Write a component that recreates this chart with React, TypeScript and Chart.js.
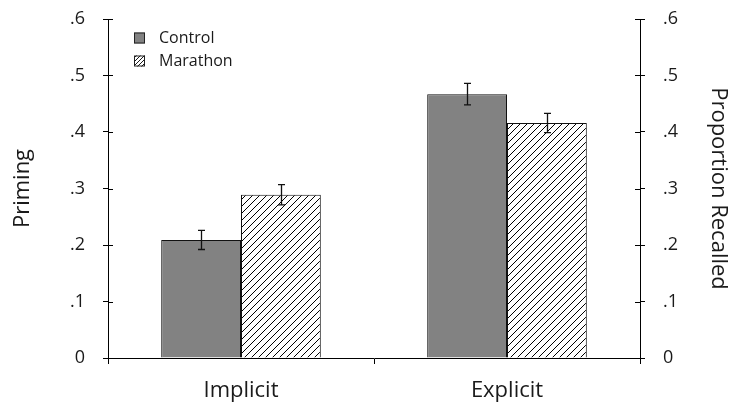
import React, { useEffect, useRef } from 'react';
import { Chart, registerables } from 'chart.js';

Chart.register(...registerables);

const categories = ['Implicit', 'Explicit'];
const seriesNames = ['Control', 'Marathon'];
const controlValues = [0.209, 0.467];
const marathonValues = [0.289, 0.416];
const controlErrors = [0.017, 0.019];
const marathonErrors = [0.018, 0.017];
const tickValues = [0, 0.1, 0.2, 0.3, 0.4, 0.5, 0.6];
const tickLabels = ['0', '.1', '.2', '.3', '.4', '.5', '.6'];
const leftTitle = 'Priming';
const rightTitle = 'Proportion Recalled';

const FONT = "'Open Sans', 'DejaVu Sans', sans-serif";
const TEXT = '#1a1a1a';
const CONTROL_FILL = '#828282';

function makeHatch(size: number, lw: number) {
  const c = document.createElement('canvas');
  c.width = size;
  c.height = size;
  const ctx = c.getContext('2d')!;
  ctx.fillStyle = '#fff';
  ctx.fillRect(0, 0, size, size);
  ctx.strokeStyle = '#000';
  ctx.lineWidth = lw;
  ctx.beginPath();
  ctx.moveTo(-1, size + 1);
  ctx.lineTo(size + 1, -1);
  ctx.moveTo(-1, 1);
  ctx.lineTo(1, -1);
  ctx.moveTo(size - 1, size + 1);
  ctx.lineTo(size + 1, size - 1);
  ctx.stroke();
  return ctx.createPattern(c, 'repeat')!;
}

const errorBarPlugin = {
  id: 'errorBars',
  afterDatasetsDraw(chart: any) {
    const ctx = chart.ctx;
    const yScale = chart.scales.y;
    const errs = [controlErrors, marathonErrors];
    chart.data.datasets.forEach((ds: any, di: number) => {
      const meta = chart.getDatasetMeta(di);
      meta.data.forEach((el: any, i: number) => {
        const v = ds.data[i];
        const e = errs[di][i];
        const x = Math.round(el.x) + 0.5;
        const yTop = yScale.getPixelForValue(v + e);
        const yBot = yScale.getPixelForValue(v - e);
        ctx.save();
        ctx.strokeStyle = '#111';
        ctx.lineWidth = 1.3;
        ctx.beginPath();
        ctx.moveTo(x, yTop);
        ctx.lineTo(x, yBot);
        ctx.moveTo(x - 3.5, yTop);
        ctx.lineTo(x + 3.5, yTop);
        ctx.moveTo(x - 3.5, yBot);
        ctx.lineTo(x + 3.5, yBot);
        ctx.stroke();
        ctx.restore();
      });
    });
  },
};

const innerTicksPlugin = {
  id: 'innerTicks',
  afterDraw(chart: any) {
    const ctx = chart.ctx;
    const ca = chart.chartArea;
    const yScale = chart.scales.y;
    ctx.save();
    ctx.strokeStyle = '#000';
    ctx.lineWidth = 1;
    ctx.beginPath();
    tickValues.forEach((v) => {
      if (v === 0) return;
      const y = Math.round(yScale.getPixelForValue(v)) + 0.5;
      ctx.moveTo(ca.left, y);
      ctx.lineTo(ca.left + 5, y);
      ctx.moveTo(ca.right - 5, y);
      ctx.lineTo(ca.right, y);
    });
    ctx.stroke();
    ctx.restore();
  },
};

const legendPlugin = {
  id: 'insideLegend',
  afterDraw(chart: any) {
    const ctx = chart.ctx;
    const ca = chart.chartArea;
    const fills = [CONTROL_FILL, makeHatch(4, 0.9)];
    const x0 = ca.left + 26;
    const rows = [ca.top + 19, ca.top + 42];
    ctx.save();
    seriesNames.forEach((name, i) => {
      const cy = rows[i];
      ctx.fillStyle = fills[i];
      ctx.fillRect(x0, cy - 5.5, 11, 11);
      ctx.strokeStyle = '#222';
      ctx.lineWidth = 1;
      ctx.strokeRect(x0 + 0.5, cy - 5, 10, 10);
      ctx.fillStyle = TEXT;
      ctx.font = `16px ${FONT}`;
      ctx.textBaseline = 'middle';
      ctx.textAlign = 'left';
      ctx.fillText(name, x0 + 25, cy);
    });
    ctx.restore();
  },
};

function yAxis(position: 'left' | 'right', title: string, width: number, titlePad: number) {
  return {
    type: 'linear',
    position,
    min: 0,
    max: 0.6,
    afterBuildTicks: (s: any) => {
      s.ticks = tickValues.map((v) => ({ value: v }));
    },
    afterFit: (s: any) => {
      s.width = width;
      s.paddingTop = 0;
      s.paddingBottom = 0;
    },
    ticks: {
      callback: (_v: any, i: number) => tickLabels[i],
      font: { family: FONT, size: 18 },
      color: TEXT,
      padding: 18,
    },
    grid: { drawOnChartArea: false, tickLength: 5, color: '#000', lineWidth: 1 },
    border: { display: true, color: '#000', width: 1 },
    title: {
      display: true,
      text: title,
      font: { family: FONT, size: 22 },
      color: TEXT,
      padding: { top: titlePad, bottom: 0 },
    },
  };
}

export default function App() {
  const ref = useRef<HTMLCanvasElement>(null);
  useEffect(() => {
    document.body.style.margin = '0';
    const hatch = makeHatch(7, 1);
    const chart = new Chart(ref.current!, {
      type: 'bar',
      data: {
        labels: categories,
        datasets: [
          {
            label: seriesNames[0],
            data: controlValues,
            backgroundColor: CONTROL_FILL,
            borderColor: '#111',
            borderWidth: 1,
            categoryPercentage: 0.6,
            barPercentage: 1,
            yAxisID: 'y',
          },
          {
            label: seriesNames[1],
            data: marathonValues,
            backgroundColor: hatch,
            borderColor: '#111',
            borderWidth: 1,
            categoryPercentage: 0.6,
            barPercentage: 1,
            yAxisID: 'y',
          },
        ],
      },
      options: {
        animation: false,
        responsive: true,
        maintainAspectRatio: false,
        layout: { padding: { top: 19, left: 0, right: 0, bottom: 0 } },
        plugins: { legend: { display: false }, tooltip: { enabled: false } },
        scales: {
          x: {
            type: 'category',
            afterFit: (s: any) => {
              s.height = 48;
            },
            ticks: { font: { family: FONT, size: 22 }, color: TEXT, padding: 14 },
            grid: { drawOnChartArea: false, tickLength: 6, color: '#000', offset: true },
            border: { display: true, color: '#000', width: 1 },
          },
          y: yAxis('left', leftTitle, 108, 10),
          y1: yAxis('right', rightTitle, 92, 1),
        } as any,
      },
      plugins: [errorBarPlugin, innerTicksPlugin, legendPlugin],
    });
    return () => chart.destroy();
  }, []);
  return (
    <div style={{ position: 'relative', width: 732, height: 406 }}>
      <canvas ref={ref} />
    </div>
  );
}
